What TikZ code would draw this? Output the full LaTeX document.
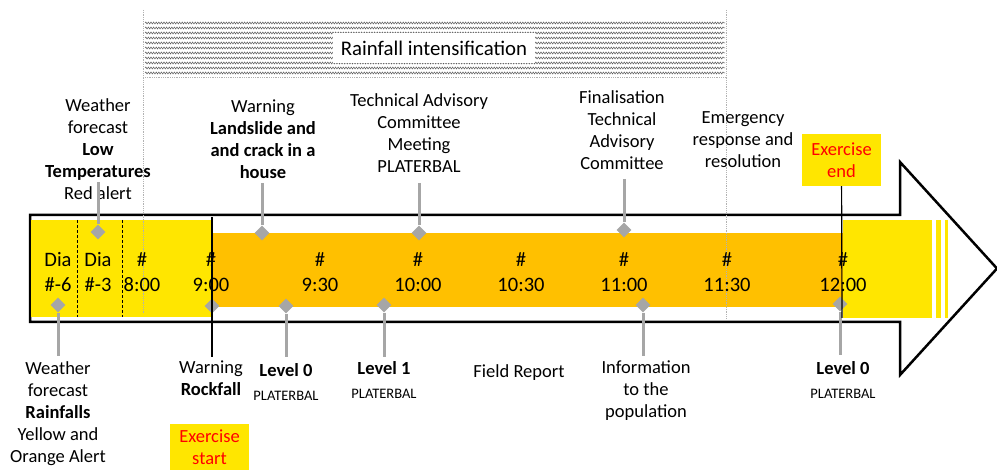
\documentclass[tikz,border=0pt]{standalone}
\usepackage{fontspec}
\setmainfont{Carlito}
\usetikzlibrary{shapes.geometric,decorations.pathmorphing}
\definecolor{sunyellow}{HTML}{FFE600}
\definecolor{amber}{HTML}{FFC000}
\definecolor{pingray}{HTML}{A6A6A6}
\definecolor{alertred}{HTML}{FF0000}
\tikzset{
  outline/.style={draw=black, line width=2.5pt, line join=miter},
  pin/.style={diamond, fill=pingray, inner sep=0pt, minimum size=15pt},
  conn/.style={draw=pingray, line width=3pt},
  stamp/.style={font=\fontsize{20.5}{25}\selectfont, align=center, inner sep=0pt},
  note/.style={font=\fontsize{18.5}{22}\selectfont, align=center, inner sep=0pt, anchor=north},
  exbox/.style={fill=sunyellow, text=alertred, font=\fontsize{18.5}{22}\selectfont, align=center, minimum width=79pt, minimum height=52pt},
  guide/.style={draw=gray!60, densely dotted, line width=0.8pt},
  wave/.style={draw=gray!70!black, line width=0.5pt, decorate, decoration={snake, amplitude=1pt, segment length=2.6pt}},
}
\newcommand{\plat}{{\fontsize{14.5}{17}\selectfont PLATERBAL}}
\begin{document}
\begin{tikzpicture}[x=1pt, y=-1pt]
\useasboundingbox (0,0) rectangle (997,470);

% rainfall band
\foreach \y in {23,28,...,73}
  \draw[wave] (145,\y) -- (725,\y);
\draw[guide] (145,77) -- (725,77);
\node[fill=white, minimum width=202pt, minimum height=30pt, font=\fontsize{20.8}{24}\selectfont] (rain) at (434,48) {Rainfall intensification};

% big arrow
\draw[outline] (30,215) -- (900,215) -- (900,162) -- (997,268.5) -- (900,375) -- (900,322) -- (30,322) -- cycle;
\fill[sunyellow] (31,220) rectangle (212,317);
\fill[amber] (212,233) rectangle (843,307);
\fill[sunyellow] (843,220) rectangle (932,318);
\fill[sunyellow] (936,220) rectangle (941,318);
\fill[sunyellow] (945,220) rectangle (948,318);
\draw[densely dashed, line width=1pt] (77,220) -- (77,317);
\draw[densely dashed, line width=1pt] (122,220) -- (122,317);
\draw[guide] (143,10) -- (143,313);
\draw[guide] (726,10) -- (726,318);

% time stamps
\node[stamp] (dm6) at (58,272) {Dia\\\#-6};
\node[stamp] (dm3) at (98,272) {Dia\\\#-3};
\node[stamp] (t800) at (142,272) {\#\\8:00};
\node[stamp] (t900) at (211,272) {\#\\9:00};
\node[stamp] (t930) at (320,272) {\#\\9:30};
\node[stamp] (t1000) at (418,272) {\#\\10:00};
\node[stamp] (t1030) at (521,272) {\#\\10:30};
\node[stamp] (t1100) at (624,272) {\#\\11:00};
\node[stamp] (t1130) at (727,272) {\#\\11:30};
\node[stamp] (t1200) at (843,272) {\#\\12:00};

% events above
\node[note] (lowtemp) at (98,98) {Weather\\forecast\\\textbf{Low}\\\textbf{Temperatures}\\Red alert};
\node[note] (slide) at (263,100) {Warning\\\textbf{Landslide and}\\\textbf{and crack in a}\\\textbf{house}};
\node[note] (tac) at (419,93) {Technical Advisory\\Committee\\Meeting\\PLATERBAL};
\node[note] (final) at (622,90) {Finalisation\\Technical\\Advisory\\Committee};
\node[note] (emerg) at (743,111) {Emergency\\response and\\resolution};
\node[exbox] (exend) at (841.5,160) {Exercise\\end};

\node[pin] (pA) at (98,232) {};
\node[pin] (pB) at (262,233) {};
\node[pin] (pC) at (419,233) {};
\node[pin] (pD) at (624,230) {};
\coordinate (cA) at (98,182);
\coordinate (cB) at (262,183);
\coordinate (cC) at (419,183);
\coordinate (cD) at (624,179);
\draw[conn] (cA) -- (pA);
\draw[conn] (cB) -- (pB);
\draw[conn] (cC) -- (pC);
\draw[conn] (cD) -- (pD);

% events below
\node[note] (rainfc) at (58,361) {Weather\\forecast\\\textbf{Rainfalls}\\Yellow and\\Orange Alert};
\node[note] (rock) at (211,361) {Warning\\\textbf{Rockfall}};
\node[note] (lvl0a) at (286,363) {\textbf{Level 0}\\[2pt]\plat};
\node[note] (lvl1) at (384,361) {\textbf{Level 1}\\[2pt]\plat};
\node[note] (field) at (519,364) {Field Report};
\node[note] (info) at (646,361) {Information\\to the\\population};
\node[note] (lvl0b) at (843,361) {\textbf{Level 0}\\[2pt]\plat};
\node[exbox, anchor=north, minimum height=46pt, inner sep=1pt] (exstart) at (209.5,424) {Exercise\\start};

\node[pin] (pE) at (58,305) {};
\node[pin] (pF) at (212,306) {};
\node[pin] (pG) at (286,306) {};
\node[pin] (pH) at (384,305) {};
\node[pin] (pI) at (643,305) {};
\node[pin] (pJ) at (840,304) {};
\coordinate (cE) at (58,356);
\coordinate (cF) at (212,357);
\coordinate (cF0) at (212,217);
\coordinate (cG) at (286,357);
\coordinate (cH) at (384,357);
\coordinate (cI) at (643,356);
\coordinate (cJ) at (840,355);
\coordinate (cK) at (842,318);
\draw[conn] (pE) -- (cE);
\draw[conn] (pG) -- (cG);
\draw[conn] (pH) -- (cH);
\draw[conn] (pI) -- (cI);
\draw[conn] (pJ) -- (cJ);
\draw[line width=1.2pt] (cF0) -- (cF);
\draw[line width=1.2pt] (exend) -- (cK);
\end{tikzpicture}
\end{document}
